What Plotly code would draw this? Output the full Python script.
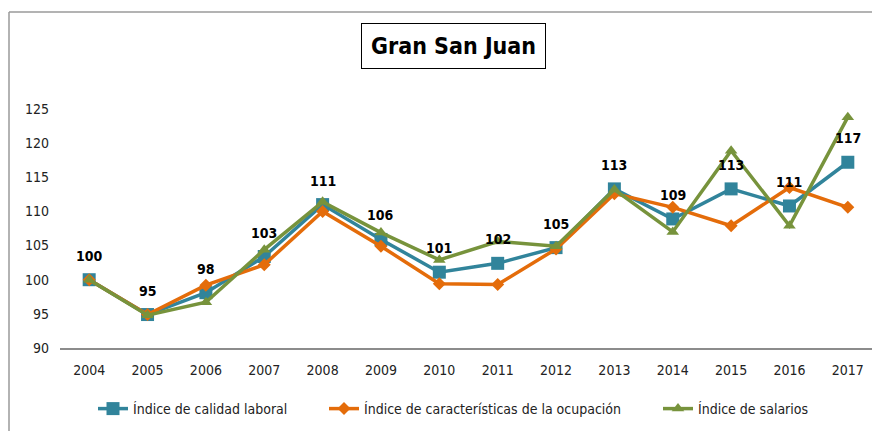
import plotly.graph_objects as go

years = ["2004", "2005", "2006", "2007", "2008", "2009", "2010",
         "2011", "2012", "2013", "2014", "2015", "2016", "2017"]
calidad = [100.0, 94.9, 98.1, 103.4, 111.0, 105.9, 101.1,
           102.4, 104.7, 113.3, 108.9, 113.3, 110.8, 117.2]
caracteristicas = [100.0, 94.9, 99.2, 102.2, 110.0, 104.9, 99.4,
                   99.3, 104.5, 112.6, 110.6, 107.9, 113.5, 110.6]
salarios = [100.0, 94.8, 96.7, 104.4, 111.4, 106.9, 102.9,
            105.6, 104.9, 113.2, 107.0, 118.9, 107.9, 123.8]
y_ticks = [90, 95, 100, 105, 110, 115, 120, 125]

FONT = "DejaVu Sans Condensed, Open Sans, sans-serif"
W, H = 872, 423
ML, MR, MT, MB = 52, 3, 101, 83
PW = W - ML - MR
PH = H - MT - MB


def px_x(p):
    return (p - ML) / PW


def px_y(p):
    return (H - MB - p) / PH


fig = go.Figure()
fig.add_trace(go.Scatter(
    x=years, y=calidad, name="Índice de calidad laboral", mode="lines+markers",
    line=dict(color="#31849B", width=3.5),
    marker=dict(symbol="square", size=13, color="#31849B"), legend="legend"))
fig.add_trace(go.Scatter(
    x=years, y=caracteristicas, name="Índice de características de la ocupación",
    mode="lines+markers",
    line=dict(color="#E46C0A", width=3.5),
    marker=dict(symbol="diamond", size=10, color="#E46C0A"), legend="legend2"))
fig.add_trace(go.Scatter(
    x=years, y=salarios, name="Índice de salarios", mode="lines+markers",
    line=dict(color="#77933C", width=3.5),
    marker=dict(symbol="triangle-up", size=11, color="#77933C"), legend="legend3"))

for i, v in enumerate(calidad):
    fig.add_annotation(x=i, y=v, text="<b>%d</b>" % round(v), showarrow=False,
                       yshift=24, font=dict(family=FONT, size=14, color="black"))

fig.add_annotation(x=px_x(445), y=px_y(38), xref="paper", yref="paper",
                   xanchor="center", yanchor="middle",
                   text="<b>Gran San Juan</b>", showarrow=False,
                   font=dict(family=FONT, size=23, color="black"),
                   bordercolor="black", borderwidth=1, borderpad=9,
                   bgcolor="white")

# outer chart frame (left and top edges)
fig.add_shape(type="line", xref="paper", yref="paper",
              x0=px_x(1), x1=px_x(1), y0=px_y(4), y1=px_y(H + 5),
              line=dict(color="#9a9a9a", width=1.5))
fig.add_shape(type="line", xref="paper", yref="paper",
              x0=px_x(1), x1=px_x(W + 5), y0=px_y(4), y1=px_y(4),
              line=dict(color="#9a9a9a", width=1.5))

leg_common = dict(orientation="h", xanchor="left", y=px_y(401), yanchor="middle",
                  font=dict(family=FONT, size=14, color="#222222"),
                  itemwidth=30, bgcolor="rgba(0,0,0,0)")

fig.update_layout(
    width=W, height=H,
    margin=dict(l=ML, r=MR, t=MT, b=MB),
    paper_bgcolor="white", plot_bgcolor="white",
    font=dict(family=FONT, size=14, color="#222222"),
    showlegend=True,
    legend=dict(x=px_x(85), **leg_common),
    legend2=dict(x=px_x(316), **leg_common),
    legend3=dict(x=px_x(650), **leg_common),
    xaxis=dict(type="category", range=[-0.5, len(years) - 0.5], showgrid=False,
               showline=True, linecolor="#8c8c8c", linewidth=1.5, ticks="",
               tickfont=dict(family=FONT, size=14), ticklabelstandoff=8),
    yaxis=dict(range=[90, 125], tickvals=y_ticks, showgrid=False,
               showline=False, zeroline=False, ticks="",
               tickfont=dict(family=FONT, size=14), ticklabelstandoff=10),
)
fig.update_traces(cliponaxis=False)

fig.write_html("out.html")
